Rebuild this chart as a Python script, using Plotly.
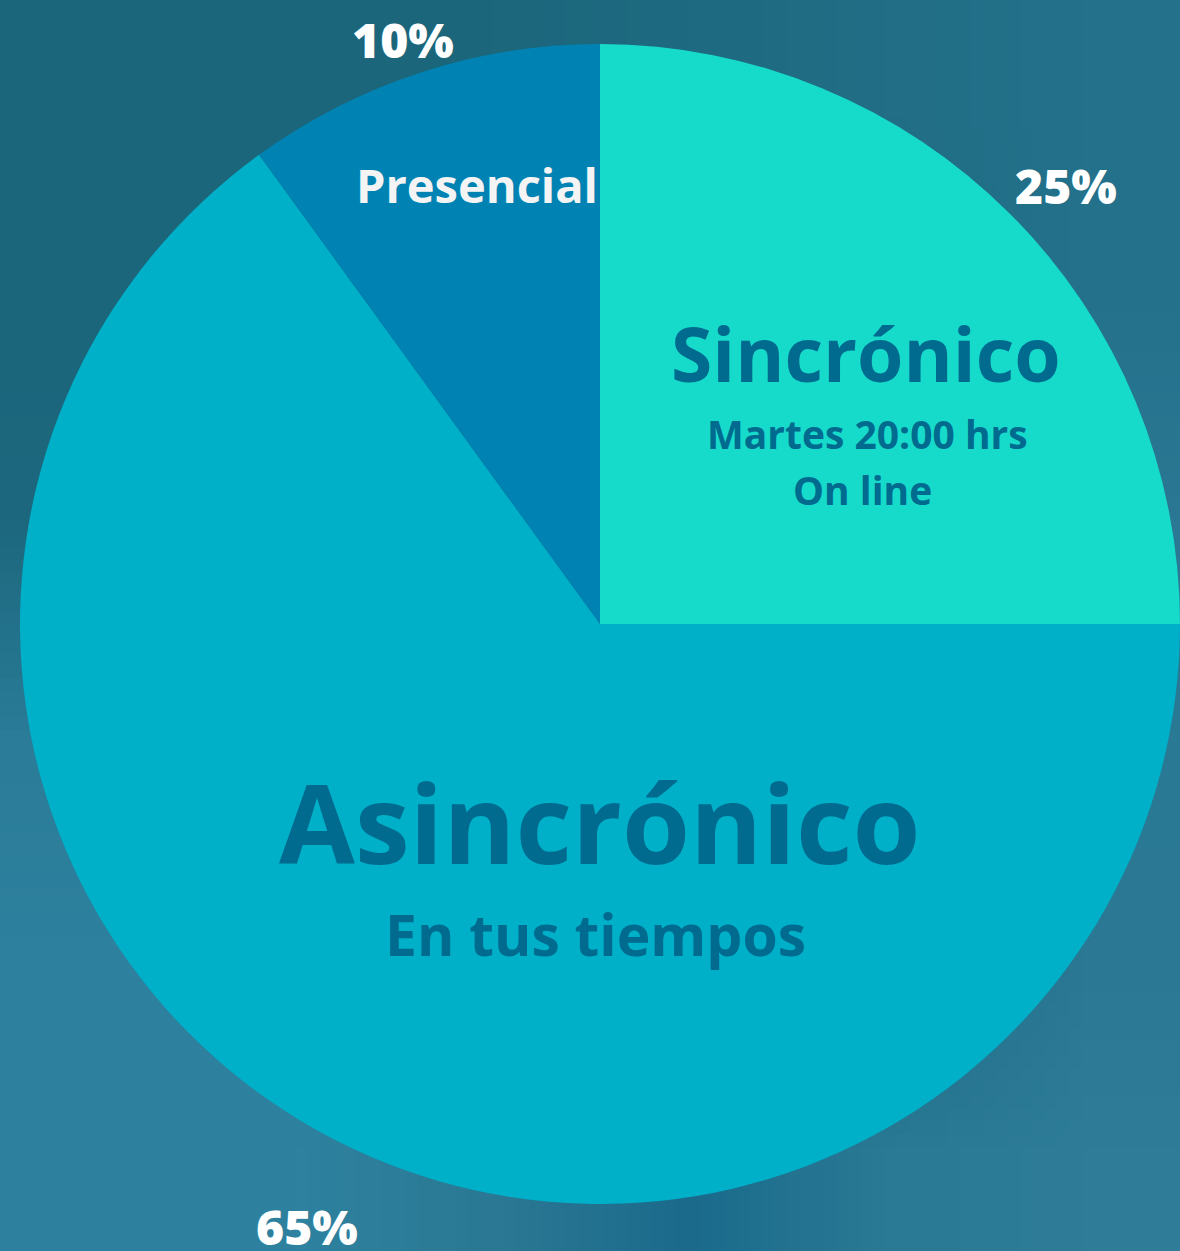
import base64, struct, zlib
import plotly.graph_objects as go

# ---- data ----
labels = ["Sincrónico", "Asincrónico", "Presencial"]
values = [25, 65, 10]
slice_colors = ["#17DBCA", "#00AFC8", "#0083B3"]
subtitles = {"Sincrónico": ["Martes 20:00 hrs", "On line"],
             "Asincrónico": ["En tus tiempos"],
             "Presencial": []}

W, H = 1180, 1251

# ---- blurred-photo style background (small gradient image, stretched) ----
bg_grid = [
    ["1B667B", "1B667B", "1C677C", "1E6A80", "216E86", "23718B"],
    ["1B667B", "1B667B", "1D687E", "1F6B82", "1E6A82", "24728C"],
    ["1D687E", "1E6A80", "207088", "22728C", "256F8A", "2A7893"],
    ["2A7C98", "2C7E9A", "2A7A96", "287894", "1E6A85", "2B7A95"],
    ["2E819E", "2E819E", "2D809D", "266F8C", "1C6882", "2A7893"],
    ["2E819E", "2E829F", "2A7893", "1B6A8C", "2A7A95", "2E7C98"],
]

def make_png(grid):
    h = len(grid); w = len(grid[0])
    raw = b""
    for row in grid:
        raw += b"\x00" + b"".join(bytes.fromhex(c) for c in row)
    def chunk(t, d):
        c = struct.pack(">I", len(d)) + t + d
        return c + struct.pack(">I", zlib.crc32(t + d) & 0xffffffff)
    png = b"\x89PNG\r\n\x1a\n"
    png += chunk(b"IHDR", struct.pack(">IIBBBBB", w, h, 8, 2, 0, 0, 0))
    png += chunk(b"IDAT", zlib.compress(raw))
    png += chunk(b"IEND", b"")
    return "data:image/png;base64," + base64.b64encode(png).decode()

fig = go.Figure()
fig.add_trace(go.Pie(
    labels=labels, values=values, sort=False, direction="clockwise", rotation=0,
    marker=dict(colors=slice_colors, line=dict(width=0)),
    textinfo="none", hoverinfo="label+percent", showlegend=False,
    domain=dict(x=[20 / W, 1.0], y=[1 - 1204 / H, 1 - 44 / H]),
))

DARK = "#006A8F"
FONT = "Open Sans"

def ann(text, xpx, baseline, size, color, weight):
    ycen = baseline - 0.37 * size
    fig.add_annotation(text=text, x=xpx / W, y=1 - ycen / H, xref="paper", yref="paper",
                       xanchor="center", yanchor="middle", showarrow=False,
                       font=dict(family=FONT, size=size, color=color, weight=weight))

# percentages (from values)
pct = {l: f"{v}%" for l, v in zip(labels, values)}
ann(pct["Presencial"], 403, 57, 48, "white", 800)
ann(pct["Sincrónico"], 1066, 203, 48, "white", 800)
ann(pct["Asincrónico"], 307, 1244, 48, "white", 800)

# category labels
ann(labels[2], 477, 202, 47, "#F4F4F4", 700)
ann(labels[0], 866, 381, 75, DARK, 700)
ann(subtitles["Sincrónico"][0], 867, 448, 39, DARK, 700)
ann(subtitles["Sincrónico"][1], 862, 504, 39, DARK, 700)
ann(labels[1], 600, 862, 110, DARK, 700)
ann(subtitles["Asincrónico"][0], 595, 955, 57, DARK, 700)

fig.add_layout_image(dict(source=make_png(bg_grid), xref="paper", yref="paper",
                          x=0, y=1, sizex=1, sizey=1, sizing="stretch",
                          xanchor="left", yanchor="top", layer="below"))

fig.update_layout(width=W, height=H, margin=dict(l=0, r=0, t=0, b=0),
                  paper_bgcolor="#1F6C84", plot_bgcolor="rgba(0,0,0,0)")

fig.write_html("out.html", config={"displayModeBar": False},
               post_script="document.body.style.margin='0';document.body.style.overflow='hidden';")
